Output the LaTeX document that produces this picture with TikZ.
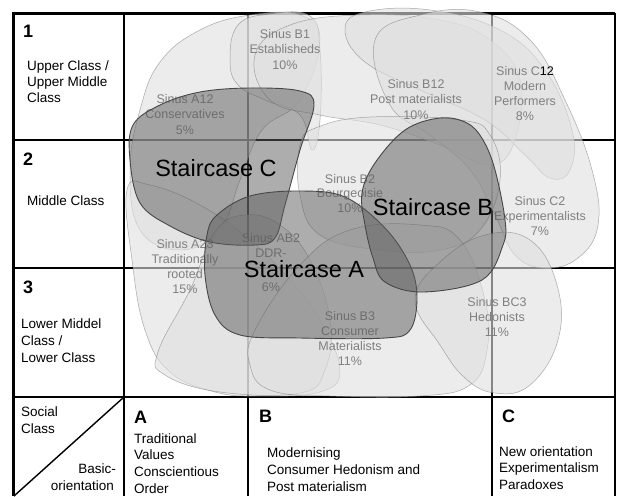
\documentclass[tikz,border=0pt]{standalone}
\usepackage{fontspec}
\setmainfont{Liberation Sans}
\definecolor{blobfill}{gray}{0.88}
\definecolor{bloblin}{gray}{0.42}
\definecolor{stairfill}{gray}{0.36}
\definecolor{stairlin}{gray}{0.28}
\definecolor{sinustxt}{gray}{0.50}
\tikzset{
  gridline/.style={line width=1.4pt, black},
  borderline/.style={line width=3pt, black},
  blob/.style={fill=blobfill, fill opacity=0.6, draw=bloblin, draw opacity=0.55, line width=0.5pt},
  stair/.style={fill=stairfill, fill opacity=0.5, draw=stairlin, line width=0.9pt},
  lbl/.style={font=\fontsize{13.5}{16}\selectfont, inner sep=0pt, anchor=base west},
  lblr/.style={lbl, anchor=base east},
  bignum/.style={font=\fontsize{18}{20}\selectfont\bfseries, inner sep=0pt, anchor=base west},
  sinus/.style={font=\fontsize{12.5}{15}\selectfont, text=sinustxt, inner sep=0pt, anchor=base},
  stairtxt/.style={font=\fontsize{23.5}{28}\selectfont, inner sep=0pt, anchor=base},
}
% lines of text: style, name, x, first baseline, spacing, list
\newcommand\textlines[6]{%
  \foreach \txtline [count=\lineno] in {#6} {%
    \node[#1] (#2-\lineno) at (#3, {#4+(\lineno-1)*#5}) {\txtline};
  }%
}
\begin{document}
\begin{tikzpicture}[x=1pt, y=-1pt]
\useasboundingbox (0,0) rectangle (617,496);
\fill[white] (0,0) rectangle (617,496);

% ---------- grid ----------
\draw[gridline] (13,140) -- (615,140);
\draw[gridline] (13,268) -- (615,268);
\draw[gridline] (13,397) -- (615,397);
\draw[gridline] (124,13) -- (124,496);
\draw[gridline] (248,13) -- (248,496);
\draw[gridline] (492,13) -- (492,496);
\draw[gridline] (615,13) -- (615,496);
\draw[gridline] (124,397) -- (14,496);
\draw[borderline] (13,13) -- (615,13);
\draw[borderline] (13,11.5) -- (13,496);

% ---------- Sinus milieus (light blobs) ----------
\draw[blob] plot[smooth cycle, tension=0.7] coordinates {(140,110) (160,62) (200,30) (250,15) (300,15) (320,40) (300,100) (262,130) (240,180) (220,230) (180,250) (140,230) (130,170)};
\draw[blob] plot[smooth cycle, tension=0.7] coordinates {(127,190) (132,260) (145,330) (170,372) (215,392) (260,396) (320,392) (340,370) (320,320) (290,280) (250,240) (200,205) (150,185)};
\draw[blob] plot[smooth cycle, tension=0.7] coordinates {(215,232) (190,290) (158,352) (165,375) (220,392) (300,393) (325,370) (330,320) (310,260) (280,225) (245,215)};
\draw[blob] plot[smooth cycle, tension=0.7] coordinates {(230,60) (238,25) (270,14) (310,16) (320,50) (320,120) (312,150) (300,115) (265,100) (238,85)};
\draw[blob] plot[smooth cycle, tension=0.7] coordinates {(255,55) (290,25) (360,15) (440,20) (490,40) (520,80) (515,140) (490,165) (440,145) (380,125) (320,115) (270,100)};
\draw[blob] plot[smooth cycle, tension=0.7] coordinates {(345,30) (365,12) (430,10) (500,30) (545,70) (572,130) (570,170) (550,178) (525,155) (485,120) (420,90) (365,62)};
\draw[blob] plot[smooth cycle, tension=0.7] coordinates {(375,40) (420,15) (480,12) (530,40) (565,100) (592,170) (598,225) (578,258) (545,268) (515,255) (495,215) (470,170) (430,135) (390,105)};
\draw[blob] plot[smooth cycle, tension=0.7] coordinates {(300,145) (318,127) (370,117) (460,120) (490,135) (500,180) (480,230) (440,250) (380,250) (320,235) (300,195)};
\draw[blob] plot[smooth cycle, tension=0.7] coordinates {(255,330) (300,265) (350,230) (420,225) (460,240) (485,300) (487,350) (470,385) (420,396) (330,396) (270,390) (250,365)};
\draw[blob] plot[smooth cycle, tension=0.7] coordinates {(415,300) (440,262) (485,235) (530,240) (557,285) (558,340) (530,385) (495,393) (465,378) (440,345)};

% ---------- Sinus labels ----------
\textlines{sinus}{b1}{285}{38}{15.5}{Sinus B1, Establisheds, 10\%}
\textlines{sinus}{a12}{185}{103}{15.5}{Sinus A12, Conservatives, 5\%}
\textlines{sinus}{b12}{416}{88}{15.5}{Sinus B12, Post materialists, 10\%}
\textlines{sinus}{c12}{525}{75}{15.3}{{Sinus C\textcolor{black}{12}}, Modern, Performers, 8\%}
\textlines{sinus}{b2}{350}{183}{14.5}{Sinus B2, Bourgeoisie, 10\%}
\textlines{sinus}{c2}{540}{205}{15}{Sinus C2, Experimentalists, 7\%}
\textlines{sinus}{a23}{185}{248}{15.3}{Sinus A23, Traditionally, rooted, 15\%}
\node[sinus] (ab2-1) at (271,242) {Sinus AB2};
\node[sinus] (ab2-2) at (271,257) {DDR-};
\node[sinus] (ab2-3) at (271,291) {6\%};
\textlines{sinus}{b3}{350}{320}{15}{Sinus B3, Consumer, Materialists, 11\%}
\textlines{sinus}{bc3}{497}{306}{15}{Sinus BC3, Hedonists, 11\%}

% ---------- Staircases ----------
\draw[stair] plot[smooth cycle, tension=0.6] coordinates {(133,125) (160,105) (200,92) (250,88) (300,91) (314,105) (300,150) (285,205) (275,238) (255,245) (210,242) (170,226) (140,203) (130,160)};
\draw[stair] plot[smooth cycle, tension=0.6] coordinates {(217,215) (250,196) (300,191) (345,197) (385,228) (410,265) (417,298) (410,330) (385,338) (300,338) (240,335) (215,315) (205,275) (207,235)};
\draw[stair] plot[smooth cycle, tension=0.6] coordinates {(440,118) (467,123) (483,140) (495,170) (505,220) (503,245) (482,280) (423,292) (385,282) (373,258) (365,225) (362,193) (375,163) (405,130)};

\node[stairtxt] (stc) at (216,176) {Staircase C};
\node[stairtxt] (stb) at (433,215) {Staircase B};
\node[stairtxt] (sta) at (304,277) {Staircase A};

% ---------- frame labels ----------
\node[bignum] (n1) at (23,37) {1};
\node[bignum] (n2) at (23,165) {2};
\node[bignum] (n3) at (23,293) {3};
\node[bignum] (la) at (134,423) {A};
\node[bignum] (lb) at (259,422) {B};
\node[bignum] (lc) at (502,422) {C};

\textlines{lbl}{r1}{27}{70}{16.2}{Upper Class /, Upper Middle, Class}
\node[lbl] (r2) at (27,205) {Middle Class};
\textlines{lbl}{r3}{21}{328}{17}{Lower Middel, Class /, Lower Class}
\textlines{lbl}{sc}{21}{416}{17}{Social, Class}
\node[lblr] (bo1) at (116,473) {Basic-};
\node[lblr] (bo2) at (114,490) {orientation};
\textlines{lbl}{ca}{134}{443}{16.7}{Traditional, Values, Conscientious, Order}
\textlines{lbl}{cb}{267}{457}{17}{Modernising, Consumer Hedonism and, Post materialism}
\textlines{lbl}{cc}{499}{456}{16.5}{New orientation, Experimentalism, Paradoxes}
\end{tikzpicture}
\end{document}
